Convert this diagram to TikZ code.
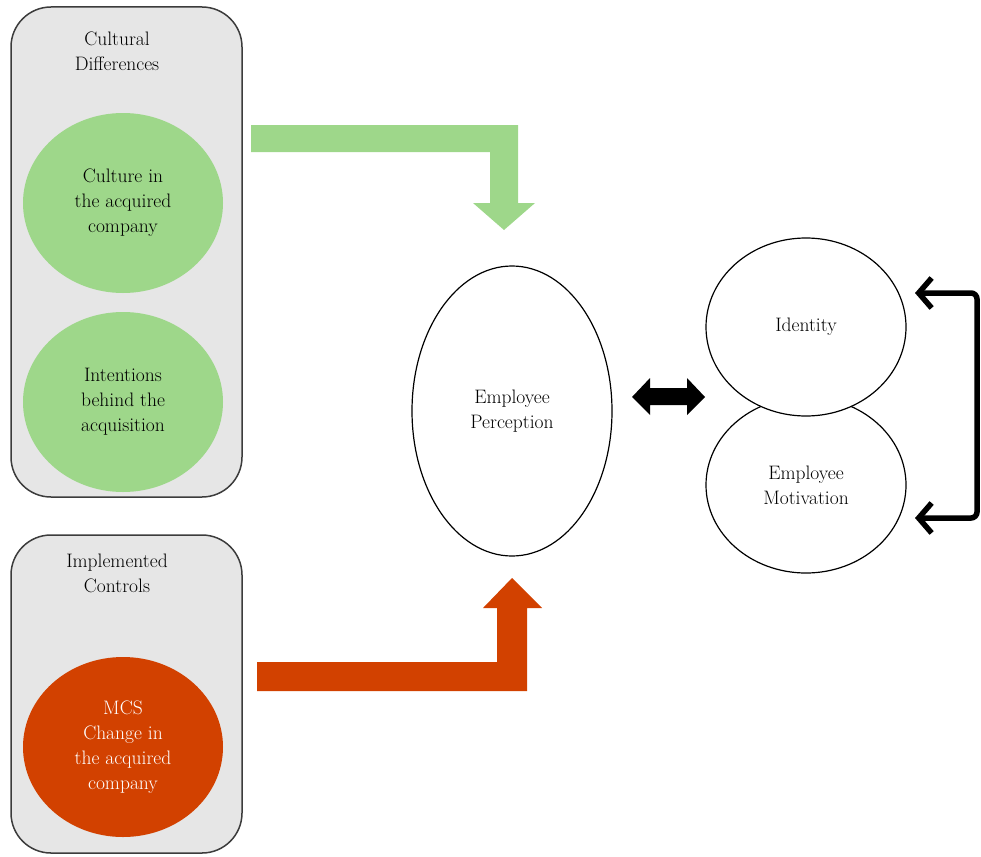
\documentclass[tikz,border=0pt]{standalone}
\usetikzlibrary{shapes.geometric,arrows.meta}
\definecolor{boxgray}{HTML}{E6E6E6}
\definecolor{boxline}{HTML}{3C3C3C}
\definecolor{lgreen}{HTML}{9ED78A}
\definecolor{dorange}{HTML}{D24100}
\tikzset{
  groupbox/.style={draw=boxline, line width=1.5pt, fill=boxgray, rounded corners=40pt, minimum width=231pt, inner sep=0pt},
  bubble/.style={ellipse, inner sep=0pt, minimum width=200pt, minimum height=180pt, align=center, font=\fontsize{19.5}{25}\selectfont},
  whiteell/.style={ellipse, draw=black, line width=1.2pt, fill=white, inner sep=0pt, minimum width=200pt, align=center, font=\fontsize{19.5}{25}\selectfont},
  ttl/.style={align=center, font=\fontsize{19.5}{25}\selectfont, inner sep=0pt}
}
\begin{document}
\begin{tikzpicture}[x=1pt,y=-1pt]
\useasboundingbox (0,0) rectangle (981,856);
% group boxes
\node[groupbox, minimum height=490pt] (box1) at (126.5,252) {};
\node[groupbox, minimum height=318pt] (box2) at (126.5,694) {};
\node[ttl] (t1) at (117,51.5) {Cultural\\Differences};
\node[ttl] (t2) at (117,573.5) {Implemented\\Controls};
% inner bubbles
\node[bubble, fill=lgreen] (culture) at (123,203) {Culture in\\the acquired\\company};
\node[bubble, fill=lgreen] (intent) at (123,402) {Intentions\\behind the\\acquisition};
\node[bubble, fill=dorange, text=white] (mcs) at (123,747) {MCS\\Change in\\the acquired\\company};
% block arrows
\fill[lgreen] (251,125) -- (518,125) -- (518,203) -- (535,203) -- (504,230) -- (473,203) -- (490,203) -- (490,152) -- (251,152) -- cycle;
\fill[dorange] (257,691) -- (527,691) -- (527,608) -- (542,608) -- (512,578) -- (483,608) -- (497,608) -- (497,662) -- (257,662) -- cycle;
% right side
\node[whiteell, minimum height=290pt] (perc) at (512,411) {Employee\\Perception};
\node[whiteell, minimum height=176pt] (motiv) at (806,485) {Employee\\Motivation};
\node[whiteell, minimum height=178pt] (ident) at (806,327) {Identity};
% double arrow
\fill[black] (632,397) -- (650,378) -- (650,388) -- (687,388) -- (687,378) -- (705,397) -- (687,415) -- (687,405) -- (650,405) -- (650,415) -- cycle;
% feedback bracket
\coordinate (bt) at (915,293);
\coordinate (bb) at (915,518);
\draw[line width=5.5pt, rounded corners=6pt, {Straight Barb[length=13pt,width=30pt]}-{Straight Barb[length=13pt,width=30pt]}] (bt) -- (977,293) -- (977,518) -- (bb);
\end{tikzpicture}
\end{document}
